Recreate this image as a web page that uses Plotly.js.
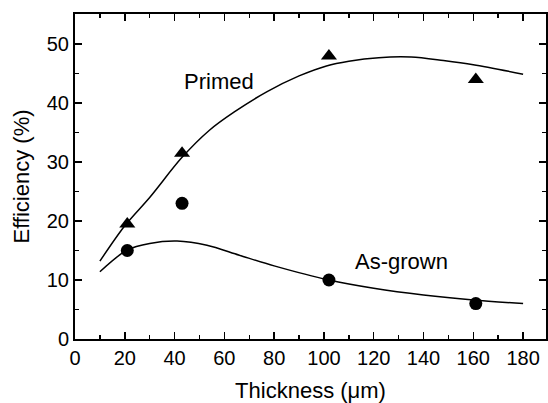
<!DOCTYPE html>
<html><head><meta charset="utf-8">
<script src="https://cdn.plot.ly/plotly-3.0.1.min.js"></script>
<style>html,body{margin:0;padding:0;background:#fff}#chart{width:548px;height:403px}</style>
</head><body><div id="chart"></div>
<script>
var primedX = [21, 43, 102, 161];
var primedY = [19.5, 31.5, 48, 44];
var grownX = [21, 43, 102, 161];
var grownY = [15, 23, 10, 6];
var primedFitX = [10, 20, 30, 43, 54, 64, 77, 90, 101, 110, 122, 135, 148, 160, 180];
var primedFitY = [13.2, 19.2, 24.0, 30.8, 35.4, 38.5, 41.9, 44.6, 46.3, 47.1, 47.7, 47.8, 47.2, 46.5, 44.9];
var grownFitX = [10, 21, 30, 41, 53, 66, 80, 102, 120, 140, 160, 180];
var grownFitY = [11.4, 15.1, 16.2, 16.6, 15.9, 14.2, 12.4, 10.0, 8.6, 7.45, 6.6, 6.0];
var xTicks = [0, 20, 40, 60, 80, 100, 120, 140, 160, 180];
var yTicks = [0, 10, 20, 30, 40, 50];
var labels = [{text: 'Primed', x: 58, y: 43.7}, {text: 'As-grown', x: 131, y: 13.2}];

var font = {family: 'Liberation Sans, Arial, sans-serif', color: '#000'};
var traces = [
  {x: primedFitX, y: primedFitY, mode: 'lines', line: {color: '#000', width: 1.5, shape: 'spline', smoothing: 0.9}, hoverinfo: 'skip'},
  {x: grownFitX, y: grownFitY, mode: 'lines', line: {color: '#000', width: 1.5, shape: 'spline', smoothing: 0.9}, hoverinfo: 'skip'},
  {x: primedX, y: primedY, mode: 'markers', marker: {symbol: 'triangle-up', size: 14, color: '#000'}},
  {x: grownX, y: grownY, mode: 'markers', marker: {symbol: 'circle', size: 13, color: '#000'}}
];
var axisCommon = {
  showgrid: false, zeroline: false, showline: true, linecolor: '#000', linewidth: 2,
  mirror: 'ticks', ticks: 'inside', ticklen: 7, tickwidth: 1.5, tickcolor: '#000',
  tickfont: Object.assign({size: 20}, font)
};
var layout = {
  width: 548, height: 403,
  margin: {l: 75, r: 2, t: 13.5, b: 64},
  paper_bgcolor: '#fff', plot_bgcolor: '#fff',
  showlegend: false,
  xaxis: Object.assign({}, axisCommon, {
    range: [0, 189.2], tickvals: xTicks, ticktext: xTicks.map(String),
    minor: {dtick: 10, tick0: 0, ticks: 'inside', ticklen: 4, tickwidth: 1.5, tickcolor: '#000'},
    title: {text: 'Thickness (\u03bcm)', font: Object.assign({size: 22}, font), standoff: 18}
  }),
  yaxis: Object.assign({}, axisCommon, {
    range: [0, 55.1], tickvals: yTicks, ticktext: yTicks.map(String),
    minor: {dtick: 5, tick0: 0, ticks: 'inside', ticklen: 4, tickwidth: 1.5, tickcolor: '#000'},
    title: {text: 'Efficiency (%)', font: Object.assign({size: 22}, font), standoff: 11}
  }),
  annotations: labels.map(function (l) {
    return {x: l.x, y: l.y, xref: 'x', yref: 'y', text: l.text, showarrow: false,
      font: Object.assign({size: 22}, font)};
  })
};
Plotly.newPlot('chart', traces, layout, {staticPlot: true});
</script></body></html>
